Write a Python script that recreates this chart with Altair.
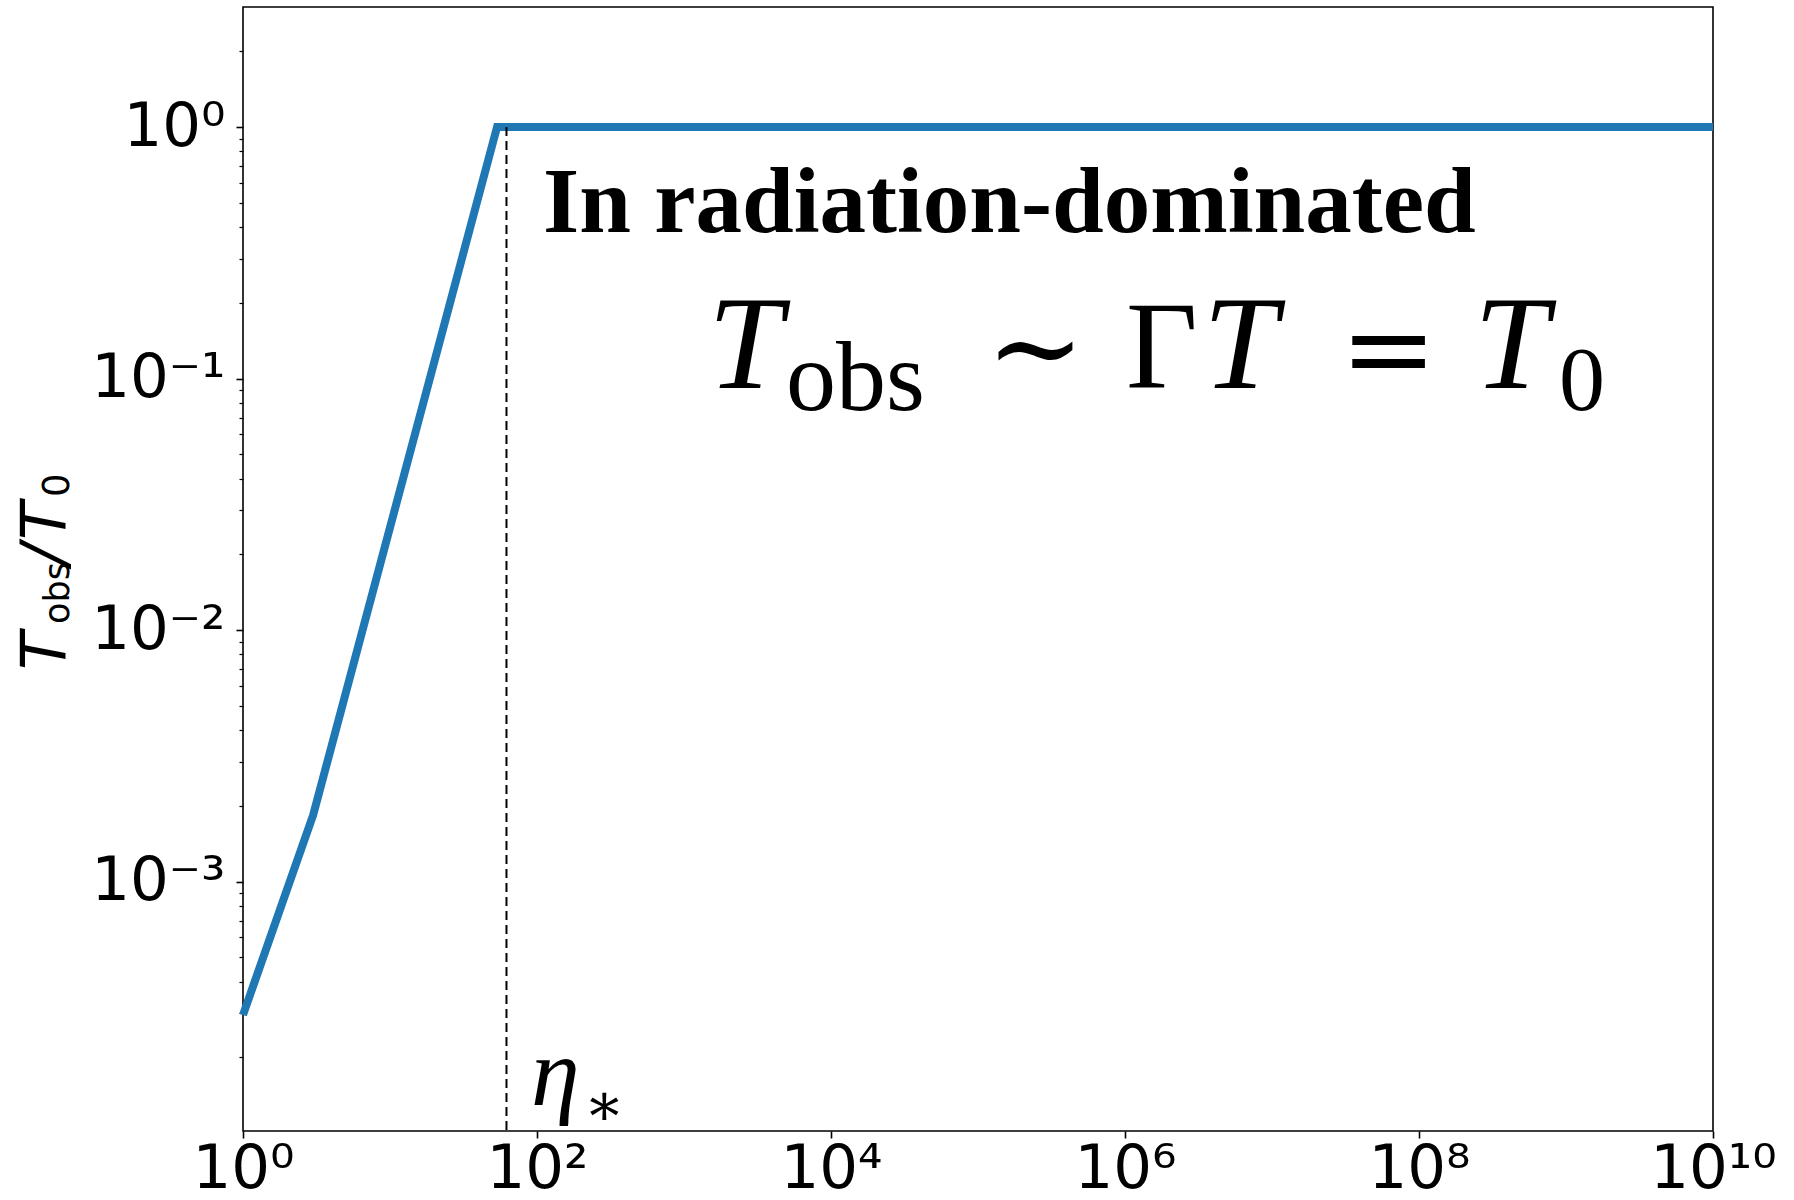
import altair as alt
import pandas as pd

# Observed temperature ratio along the fireball's expansion
ETA = [1.0, 3.0, 53.5, 1e10]
T_RATIO = [2.95e-4, 1.84e-3, 1.0, 1.0]

# Saturation point eta_*
ETA_STAR = [62.0]
ETA_STAR_TOP = [1.0]

# Axis ranges and ticks
X_DOMAIN = [1.0, 1e10]
Y_DOMAIN = [1.02e-4, 3.0]
X_TICKS = [1.0, 1e2, 1e4, 1e6, 1e8, 1e10]
X_LABELS = ["10⁰", "10²", "10⁴", "10⁶", "10⁸", "10¹⁰"]
Y_MAJOR = [1.0, 0.1, 0.01, 0.001]
Y_LABELS = ["10⁰", "10⁻¹", "10⁻²", "10⁻³"]
Y_MINOR = [2.0,
           0.9, 0.8, 0.7, 0.6, 0.5, 0.4, 0.3, 0.2,
           0.09, 0.08, 0.07, 0.06, 0.05, 0.04, 0.03, 0.02,
           0.009, 0.008, 0.007, 0.006, 0.005, 0.004, 0.003, 0.002,
           0.0009, 0.0008, 0.0007, 0.0006, 0.0005, 0.0004, 0.0003, 0.0002]

W, H = 1470, 1124
LEFT, TOP = 243, 7


def label_expr(values, labels):
    parts = [f"datum.value == {v} ? '{t}'" for v, t in zip(values, labels)]
    return " : ".join(parts) + " : ''"


x_scale = alt.Scale(type="log", domain=X_DOMAIN, nice=False)
y_scale = alt.Scale(type="log", domain=Y_DOMAIN, nice=False)

x_axis = alt.Axis(
    values=X_TICKS, labelExpr=label_expr(X_TICKS, X_LABELS), title=None,
    domain=False, grid=False, tickColor="black", tickSize=7, tickWidth=1.6,
    labelFont="DejaVu Sans", labelFontSize=61, labelColor="black",
    labelPadding=1, labelOverlap=False, labelFlush=False,
)
major_test = "indexof(" + str(Y_MAJOR) + ", datum.value) >= 0"
y_axis = alt.Axis(
    values=Y_MAJOR + Y_MINOR, labelExpr=label_expr(Y_MAJOR, Y_LABELS), title=None,
    domain=False, grid=False, tickColor="black",
    tickSize={"condition": {"test": major_test, "value": 7}, "value": 4},
    tickWidth={"condition": {"test": major_test, "value": 1.6}, "value": 1.2},
    labelFont="DejaVu Sans", labelFontSize=61, labelColor="black",
    labelPadding=11, labelOverlap=False, labelFlush=False,
)

curve = alt.Chart(pd.DataFrame({"eta": ETA, "t": T_RATIO})).mark_line(
    color="#1f77b4", strokeWidth=8, strokeJoin="miter"
).encode(
    x=alt.X("eta:Q", scale=x_scale, axis=x_axis),
    y=alt.Y("t:Q", scale=y_scale, axis=y_axis),
)

star_line = alt.Chart(
    pd.DataFrame({"eta": ETA_STAR, "top": ETA_STAR_TOP, "bottom": [Y_DOMAIN[0]]})
).mark_rule(color="black", strokeWidth=2, strokeDash=[9, 5]).encode(
    x=alt.X("eta:Q", scale=x_scale),
    y=alt.Y("top:Q", scale=y_scale),
    y2="bottom:Q",
)


def txt(s, x, y, size, font="Liberation Serif", style="normal", weight="normal",
        angle=0, align="left", baseline="alphabetic"):
    return alt.Chart(pd.DataFrame({"s": [s]})).mark_text(
        align=align, baseline=baseline, font=font, fontSize=size,
        fontStyle=style, fontWeight=weight, angle=angle, color="black",
    ).encode(x=alt.value(x - LEFT), y=alt.value(y - TOP), text="s:N")


MATH = "Liberation Serif, DejaVu Serif"
SYM = "DejaVu Serif"
SANS = "DejaVu Sans"

annotations = [
    # headline
    txt("In radiation-dominated", 543, 232, 93, weight="bold"),
    # T_obs ~ Gamma T = T_0
    txt("T", 708, 388, 134, font=MATH, style="italic"),
    txt("obs", 786, 410, 100, font=MATH),
    txt("∼", 986, 388, 118, font=SYM),
    txt("Γ", 1126, 388, 124, font=MATH),
    txt("T", 1203, 388, 134, font=MATH, style="italic"),
    txt("=", 1340, 388, 116, font=SYM),
    txt("T", 1474, 388, 134, font=MATH, style="italic"),
    txt("0", 1559, 410, 92, font=MATH),
    # eta_* marker
    txt("η", 531, 1105, 98, font=MATH, style="italic"),
    txt("∗", 584, 1125, 60, font=MATH),
    # y-axis title T_obs / T_0 (rotated)
    txt("T", 65, 670, 62, font=SANS, style="italic", angle=270),
    txt("obs", 69, 624, 35, font=SANS, angle=270),
    txt("/", 65, 565, 62, font=SANS, style="italic", angle=270),
    txt("T", 65, 540, 62, font=SANS, style="italic", angle=270),
    txt("0", 69, 497, 37, font=SANS, angle=270),
]

chart = alt.layer(curve, star_line, *annotations).properties(
    width=W, height=H,
    autosize=alt.AutoSizeParams(type="none"),
    padding={"left": LEFT, "top": TOP, "right": 1794 - LEFT - W, "bottom": 1200 - TOP - H},
    background="white",
).configure_view(stroke="black", strokeWidth=1.6)

chart.save("out.html", embed_options={"renderer": "svg", "actions": False})
